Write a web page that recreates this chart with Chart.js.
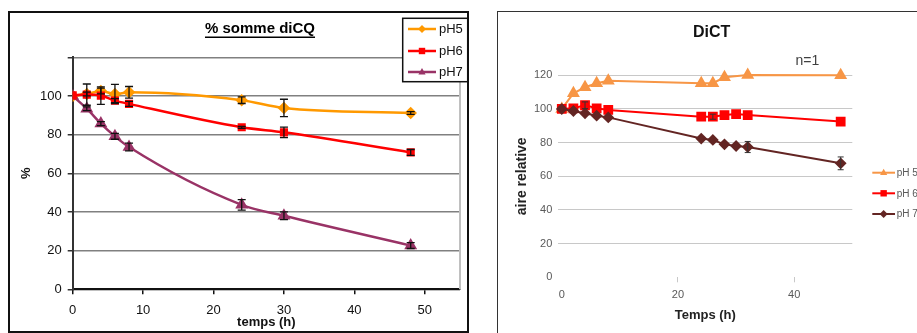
<!DOCTYPE html>
<html>
<head>
<meta charset="utf-8">
<script src="https://cdn.jsdelivr.net/npm/chart.js@4/dist/chart.umd.min.js"></script>
<style>
  body { margin: 0; background: #fff; }
  #page { position: relative; width: 917px; height: 333px; overflow: hidden; background: #fff; }
  .frame { position: absolute; box-sizing: border-box; }
  #frameLeft { left: 8px; top: 11px; width: 461px; height: 322px; border: 2px solid #111; }
  #frameRight { left: 497px; top: 11px; width: 440px; height: 340px; border: 1px solid #333; }
  .box { position: absolute; top: 0; height: 333px; }
  #boxLeft { left: 0; width: 470px; }
  #boxRight { left: 495px; width: 422px; }
</style>
</head>
<body>
<div id="page">
  <div class="frame" id="frameLeft"></div>
  <div class="frame" id="frameRight"></div>
  <div class="box" id="boxLeft"><canvas id="chartLeft"></canvas></div>
  <div class="box" id="boxRight"><canvas id="chartRight"></canvas></div>
</div>
<script>
// ---- left chart : % somme diCQ ----
const leftTitle = '% somme diCQ';
const leftTimes = [0, 2, 4, 6, 8, 24, 30, 48];
const leftPH5 = [100, 101, 102.6, 101, 101.9, 97.8, 93.8, 91.2];
const leftPH5Err = [0, 1, 1.5, 5, 3, 1.7, 4.5, 0.7];
const leftPH6 = [100.3, 100.7, 100.2, 97.6, 95.9, 83.8, 81.2, 70.8];
const leftPH6Err = [0, 5.5, 4.5, 1, 1.3, 0.5, 2.7, 1.5];
const leftPH7 = [100, 93.4, 85.7, 79.1, 73.6, 43.7, 38, 22.6];
const leftPH7Err = [0, 1, 1, 1.5, 2, 2.7, 2, 1.5];
const leftXTicks = [0, 10, 20, 30, 40, 50];
const leftLabels = ['pH5', 'pH6', 'pH7'];

// ---- right chart : DiCT ----
const rightTitle = 'DiCT';
const rightNote = 'n=1';
const rightTimesPH5 = [0, 2, 4, 6, 8, 24, 26, 28, 32, 48];
const rightPH5 = [100, 109.3, 112.9, 115.3, 116.8, 115.3, 115.3, 118.8, 120.2, 120];
const rightTimes = [0, 2, 4, 6, 8, 24, 26, 28, 30, 32, 48];
const rightPH6 = [100, 100.4, 102.2, 100.4, 99.4, 95.4, 95.4, 96.4, 97, 96.4, 92.5];
const rightPH6Err = [0, 0, 2, 0, 0, 0, 1.5, 0, 0, 0, 0];
const rightPH7 = [100, 98.8, 97.4, 96, 95, 82.4, 81.6, 79, 78, 77.4, 67.7];
const rightPH7Err = [0, 0, 0, 0, 0, 0, 0, 0, 0, 3.3, 3.8];
const rightXTicks = [0, 20, 40];
const rightLabels = ['pH 5', 'pH 6', 'pH 7'];

const FONT = '"Liberation Sans", Arial, sans-serif';

function points(xs, ys) {
  return ys.map((v, i) => ({ x: xs[i], y: v }));
}

// marker shapes for the hand drawn legends
function drawMarker(ctx, style, x, y, r, color) {
  ctx.fillStyle = color;
  ctx.beginPath();
  if (style === 'rect') {
    ctx.rect(x - r * 0.8, y - r * 0.8, r * 1.6, r * 1.6);
  } else if (style === 'triangle') {
    ctx.moveTo(x, y - r);
    ctx.lineTo(x + r * 0.9, y + r * 0.6);
    ctx.lineTo(x - r * 0.9, y + r * 0.6);
    ctx.closePath();
  } else {
    ctx.moveTo(x, y - r);
    ctx.lineTo(x + r, y);
    ctx.lineTo(x, y + r);
    ctx.lineTo(x - r, y);
    ctx.closePath();
  }
  ctx.fill();
}

// error bars, placed with the chart's own scales
const errorBars = {
  id: 'errorBars',
  afterDatasetsDraw(chart, args, opts) {
    const { ctx, scales: { x, y } } = chart;
    ctx.save();
    ctx.strokeStyle = opts.color;
    ctx.lineWidth = opts.width;
    chart.data.datasets.forEach(ds => {
      if (!ds.errors) return;
      ds.data.forEach((p, i) => {
        const e = ds.errors[i];
        if (!e) return;
        const px = x.getPixelForValue(p.x);
        const top = y.getPixelForValue(p.y + e);
        const bot = y.getPixelForValue(p.y - e);
        ctx.beginPath();
        ctx.moveTo(px, top); ctx.lineTo(px, bot);
        ctx.moveTo(px - opts.cap, top); ctx.lineTo(px + opts.cap, top);
        ctx.moveTo(px - opts.cap, bot); ctx.lineTo(px + opts.cap, bot);
        ctx.stroke();
      });
    });
    ctx.restore();
  }
};

// titles, notes and the small legends
const decorations = {
  id: 'decorations',
  beforeDatasetsDraw(chart, args, opts) {
    if (!opts.rightBorder) return;
    const { ctx, chartArea } = chart;
    ctx.save();
    ctx.strokeStyle = opts.rightBorder;
    ctx.lineWidth = 2;
    ctx.beginPath();
    ctx.moveTo(chartArea.right, chartArea.top);
    ctx.lineTo(chartArea.right, chartArea.bottom);
    ctx.stroke();
    ctx.restore();
  },
  afterDraw(chart, args, opts) {
    const ctx = chart.ctx;
    ctx.save();
    opts.texts.forEach(t => {
      ctx.font = t.font;
      ctx.fillStyle = t.color;
      ctx.textAlign = 'center';
      ctx.textBaseline = 'middle';
      ctx.fillText(t.text, t.x, t.y);
      if (t.underline) {
        const w = ctx.measureText(t.text).width;
        ctx.fillRect(t.x - w / 2, t.underline, w, 1.5);
      }
    });
    const lg = opts.legend;
    if (lg.box) {
      ctx.fillStyle = '#fff';
      ctx.fillRect(lg.box[0], lg.box[1], lg.box[2], lg.box[3]);
      ctx.strokeStyle = '#111';
      ctx.lineWidth = 1.5;
      ctx.strokeRect(lg.box[0], lg.box[1], lg.box[2], lg.box[3]);
    }
    chart.data.datasets.forEach((ds, i) => {
      const y = lg.rows[i];
      ctx.strokeStyle = ds.borderColor;
      ctx.lineWidth = ds.borderWidth;
      ctx.beginPath();
      ctx.moveTo(lg.x0, y);
      ctx.lineTo(lg.x1, y);
      ctx.stroke();
      drawMarker(ctx, ds.pointStyle, (lg.x0 + lg.x1) / 2, y, lg.r, ds.pointBackgroundColor);
      ctx.font = lg.font;
      ctx.fillStyle = lg.color;
      ctx.textAlign = 'left';
      ctx.textBaseline = 'middle';
      ctx.fillText(ds.label, lg.tx, y + 0.5);
    });
    ctx.restore();
  }
};

new Chart(document.getElementById('chartLeft'), {
  type: 'line',
  data: {
    datasets: [
      { label: leftLabels[0], data: points(leftTimes, leftPH5), errors: leftPH5Err, order: 3,
        borderColor: '#FF9900', pointBackgroundColor: '#FF9900', pointBorderColor: '#FF9900',
        pointStyle: 'rectRot', pointRadius: 4.5, borderWidth: 2.5, cubicInterpolationMode: 'monotone' },
      { label: leftLabels[1], data: points(leftTimes, leftPH6), errors: leftPH6Err, order: 1,
        borderColor: '#FF0000', pointBackgroundColor: '#FF0000', pointBorderColor: '#FF0000',
        pointStyle: 'rect', pointRadius: 4, borderWidth: 2.5, cubicInterpolationMode: 'monotone' },
      { label: leftLabels[2], data: points(leftTimes, leftPH7), errors: leftPH7Err, order: 2,
        borderColor: '#993366', pointBackgroundColor: '#993366', pointBorderColor: '#993366',
        pointStyle: 'triangle', pointRadius: 5, borderWidth: 2.5, cubicInterpolationMode: 'monotone' }
    ]
  },
  options: {
    responsive: true,
    maintainAspectRatio: false,
    animation: false,
    layout: { padding: { top: 57.3, right: 10, bottom: 0, left: 0 } },
    scales: {
      x: {
        type: 'linear', min: 0, max: 55,
        afterBuildTicks: s => { s.ticks = leftXTicks.map(v => ({ value: v })); },
        afterFit: s => { s.height = 43.7; },
        grid: { drawOnChartArea: false, tickLength: 5, color: '#111', lineWidth: 1.5 },
        border: { color: '#111', width: 2 },
        ticks: { padding: 8, color: '#111', font: { family: FONT, size: 13 } },
        title: { display: true, text: 'temps (h)', color: '#111',
                 font: { family: FONT, size: 13, weight: 'bold' }, padding: { top: 0, bottom: 3 } }
      },
      y: {
        min: 0, max: 120,
        ticks: { stepSize: 20, padding: 6, color: '#111', font: { family: FONT, size: 13 },
                 callback: v => (v === 120 ? '' : v) },
        afterFit: s => { s.width = 72.7; },
        grid: { color: '#808080', lineWidth: 1.5, tickLength: 5, tickColor: '#333' },
        border: { color: '#333', width: 2 },
        title: { display: true, text: '%', color: '#111',
                 font: { family: FONT, size: 13, weight: 'bold' }, padding: { top: 18.4, bottom: 0 } }
      }
    },
    plugins: {
      legend: { display: false },
      tooltip: { enabled: false },
      errorBars: { color: '#111', width: 1.3, cap: 4 },
      decorations: {
        rightBorder: '#c0c0c0',
        texts: [
          { text: leftTitle, x: 260, y: 28.5, font: 'bold 15px ' + FONT, color: '#000', underline: 36.5 }
        ],
        legend: { box: [402.7, 18.3, 65, 63.4], rows: [29, 51, 72], x0: 408, x1: 436, r: 4,
                  tx: 439, font: '13px ' + FONT, color: '#111' }
      }
    }
  },
  plugins: [errorBars, decorations]
});

new Chart(document.getElementById('chartRight'), {
  type: 'line',
  data: {
    datasets: [
      { label: rightLabels[0], data: points(rightTimesPH5, rightPH5), order: 3,
        borderColor: '#F79646', pointBackgroundColor: '#F79646', pointBorderColor: '#F79646',
        pointStyle: 'triangle', pointRadius: 5.5, borderWidth: 2, clip: false },
      { label: rightLabels[1], data: points(rightTimes, rightPH6), errors: rightPH6Err, order: 2,
        borderColor: '#FF0000', pointBackgroundColor: '#FF0000', pointBorderColor: '#FF0000',
        pointStyle: 'rect', pointRadius: 5.5, borderWidth: 2, clip: false },
      { label: rightLabels[2], data: points(rightTimes, rightPH7), errors: rightPH7Err, order: 1,
        borderColor: '#632523', pointBackgroundColor: '#632523', pointBorderColor: '#632523',
        pointStyle: 'rectRot', pointRadius: 4.5, borderWidth: 2, clip: false }
    ]
  },
  options: {
    responsive: true,
    maintainAspectRatio: false,
    animation: false,
    layout: { padding: { top: 75.3, right: 64.7, bottom: 0, left: 0 } },
    scales: {
      x: {
        type: 'linear', min: -0.6, max: 50,
        afterBuildTicks: s => { s.ticks = rightXTicks.map(v => ({ value: v })); },
        afterFit: s => { s.height = 55.7; },
        grid: { drawOnChartArea: false, tickLength: 5,
                color: c => (c.tick && c.tick.value === 0 ? 'rgba(0,0,0,0)' : '#c8c8c8') },
        border: { display: false },
        ticks: { padding: 6, color: '#595959', font: { family: FONT, size: 11 } },
        title: { display: true, text: 'Temps (h)', color: '#222',
                 font: { family: FONT, size: 13, weight: 'bold' }, padding: { top: 0, bottom: 10.2 } }
      },
      y: {
        min: 0, max: 120,
        ticks: { stepSize: 20, padding: 6, color: '#595959', font: { family: FONT, size: 11 } },
        afterFit: s => { s.width = 63.3; },
        grid: { drawTicks: false, lineWidth: 1,
                color: c => (c.tick && c.tick.value === 0 ? 'rgba(0,0,0,0)' : '#c8c8c8') },
        border: { display: false },
        title: { display: true, text: 'aire relative', color: '#222',
                 font: { family: FONT, size: 14, weight: 'bold' }, padding: { top: 18.3, bottom: 0 } }
      }
    },
    plugins: {
      legend: { display: false },
      tooltip: { enabled: false },
      errorBars: { color: '#333', width: 1, cap: 3 },
      decorations: {
        texts: [
          { text: rightTitle, x: 216.7, y: 33, font: 'bold 16px ' + FONT, color: '#111' },
          { text: rightNote, x: 312.3, y: 61.5, font: '14px ' + FONT, color: '#404040' }
        ],
        legend: { rows: [172.7, 193.3, 214], x0: 377.3, x1: 400, r: 4,
                  tx: 401.7, font: '10px ' + FONT, color: '#595959' }
      }
    }
  },
  plugins: [errorBars, decorations]
});
</script>
</body>
</html>
